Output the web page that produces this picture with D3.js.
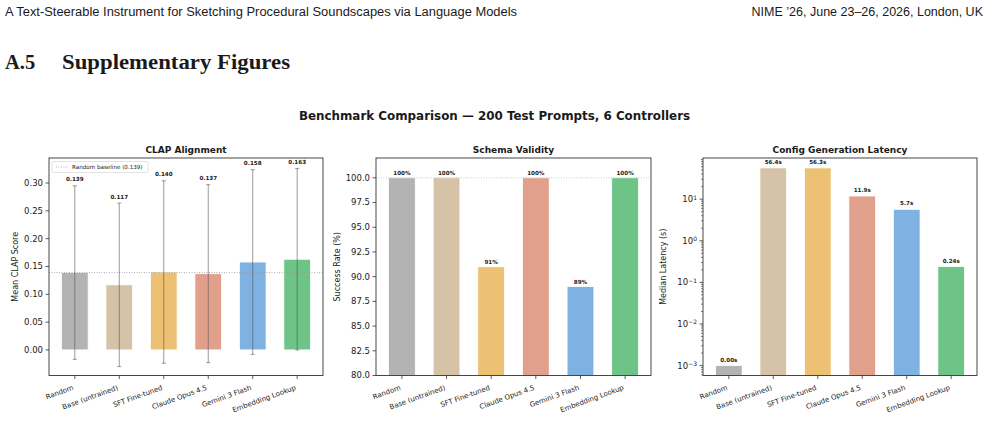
<!DOCTYPE html>
<html>
<head>
<meta charset="utf-8">
<script src="https://cdn.jsdelivr.net/npm/d3@7"></script>
<style>
  body { margin: 0; background: #fff; }
  svg { display: block; }
  text { font-family: "DejaVu Sans", sans-serif; fill: #1a1a1a; }
</style>
</head>
<body>
<svg id="chart" width="988" height="436"></svg>
<script>
// data
const controllers = ["Random", "Base (untrained)", "SFT Fine-tuned", "Claude Opus 4.5", "Gemini 3 Flash", "Embedding Lookup"];
const barColors = ["#b3b3b3", "#d6c2a6", "#ecc173", "#e1a08b", "#7fb1e3", "#6dc486"];

const clapMean = [0.139, 0.117, 0.140, 0.137, 0.158, 0.163];
const clapStd = [0.156, 0.147, 0.164, 0.160, 0.166, 0.163];
const clapBaseline = 0.139;
const clapTicks = [0.00, 0.05, 0.10, 0.15, 0.20, 0.25, 0.30];

const validity = [100, 100, 91, 100, 89, 100];
const validityTicks = [80.0, 82.5, 85.0, 87.5, 90.0, 92.5, 95.0, 97.5, 100.0];

const latency = [0.001, 56.4, 56.3, 11.9, 5.7, 0.24];
const latencyDecades = [-3, -2, -1, 0, 1];

const svg = d3.select("#chart");
svg.append("rect").attr("width", 988).attr("height", 436).attr("fill", "#fff");

// page header
svg.append("text").attr("x", 5).attr("y", 16)
  .style("font-family", "'Liberation Sans Narrow', 'Liberation Sans', sans-serif")
  .style("font-size", "12.5px").attr("textLength", 512).attr("lengthAdjust", "spacingAndGlyphs")
  .text("A Text-Steerable Instrument for Sketching Procedural Soundscapes via Language Models");
svg.append("text").attr("x", 983).attr("y", 16).attr("text-anchor", "end")
  .style("font-family", "'Liberation Sans Narrow', 'Liberation Sans', sans-serif")
  .style("font-size", "12.5px")
  .text("NIME \u201926, June 23\u201326, 2026, London, UK");
const sec = svg.append("text").attr("y", 69)
  .style("font-family", "'Liberation Serif', serif").style("font-weight", "bold").style("font-size", "20.5px");
sec.append("tspan").attr("x", 5).text("A.5");
sec.append("tspan").attr("x", 62).attr("textLength", 228).attr("lengthAdjust", "spacingAndGlyphs").text("Supplementary Figures");

svg.append("text").attr("x", 494.5).attr("y", 119.5).attr("text-anchor", "middle")
  .style("font-weight", "bold").style("font-size", "11.9px")
  .text("Benchmark Comparison \u2014 200 Test Prompts, 6 Controllers");

const axTop = 158, axBottom = 375.5;
const panels = [
  { left: 49, right: 323 },
  { left: 376, right: 651 },
  { left: 703, right: 977 }
];

function frame(p, title, ylabel, ylabelX) {
  const g = svg.append("g");
  p.x = d3.scaleLinear().domain([-0.58, 5.58]).range([p.left, p.right]);
  g.append("text").attr("x", (p.left + p.right) / 2).attr("y", 153)
    .attr("text-anchor", "middle").style("font-weight", "bold").style("font-size", "9px").text(title);
  g.append("text").attr("transform", `translate(${ylabelX},${(axTop + axBottom) / 2}) rotate(-90)`)
    .attr("text-anchor", "middle").style("font-size", "8px").text(ylabel);
  return g;
}

function xAxis(p, g) {
  const ax = g.append("g");
  controllers.forEach((c, i) => {
    const x = p.x(i);
    ax.append("line").attr("x1", x).attr("x2", x).attr("y1", axBottom).attr("y2", axBottom + 3.5)
      .attr("stroke", "#333").attr("stroke-width", 0.8);
    ax.append("text").attr("transform", `translate(${x - 0.8},${axBottom + 14}) rotate(-20)`)
      .attr("text-anchor", "end").style("font-size", "7px").text(c);
  });
}

function yAxis(p, g, y, ticks, fmt) {
  const ax = g.append("g");
  ticks.forEach(t => {
    const yy = y(t);
    ax.append("line").attr("x1", p.left - 3.5).attr("x2", p.left).attr("y1", yy).attr("y2", yy)
      .attr("stroke", "#333").attr("stroke-width", 0.8);
    ax.append("text").attr("x", p.left - 6).attr("y", yy).attr("dy", "0.34em")
      .attr("text-anchor", "end").style("font-size", "8.5px").text(fmt(t));
  });
}

function border(p, g) {
  g.append("rect").attr("x", p.left).attr("y", axTop).attr("width", p.right - p.left).attr("height", axBottom - axTop)
    .attr("fill", "none").attr("stroke", "#333").attr("stroke-width", 0.9);
}

function bars(p, g, y, values, base) {
  g.append("g").selectAll("rect").data(values).join("rect")
    .attr("x", (d, i) => p.x(i - 0.3))
    .attr("width", (d, i) => p.x(i + 0.3) - p.x(i - 0.3))
    .attr("y", d => y(d))
    .attr("height", d => Math.max(0, y(base) - y(d)))
    .attr("fill", (d, i) => barColors[i])
    .attr("stroke", "#fff").attr("stroke-width", 0.8);
}

function valueLabels(p, g, ys, labels) {
  g.append("g").selectAll("text").data(labels).join("text")
    .attr("x", (d, i) => p.x(i)).attr("y", (d, i) => ys[i])
    .attr("text-anchor", "middle").style("font-weight", "bold").style("font-size", "5.6px").text(d => d);
}

// ---- Panel 1: CLAP alignment
{
  const p = panels[0];
  const g = frame(p, "CLAP Alignment", "Mean CLAP Score", 18);
  const y = d3.scaleLinear().domain([-0.046, 0.345]).range([axBottom, axTop]);
  bars(p, g, y, clapMean, 0);
  g.append("line").attr("x1", p.left).attr("x2", p.right).attr("y1", y(clapBaseline)).attr("y2", y(clapBaseline))
    .attr("stroke", "#999").attr("stroke-width", 0.8).attr("stroke-dasharray", "1,1.5");
  const eb = g.append("g").attr("stroke", "#555").attr("stroke-opacity", 0.75).attr("stroke-width", 0.8);
  clapMean.forEach((m, i) => {
    const x = p.x(i), s = clapStd[i];
    eb.append("line").attr("x1", x).attr("x2", x).attr("y1", y(m - s)).attr("y2", y(m + s));
    [m - s, m + s].forEach(v => eb.append("line").attr("x1", x - 2).attr("x2", x + 2).attr("y1", y(v)).attr("y2", y(v)));
  });
  valueLabels(p, g, clapMean.map((m, i) => y(m + clapStd[i]) - 4.5), clapMean.map(d => d3.format(".3f")(d)));
  yAxis(p, g, y, clapTicks, d3.format(".2f"));
  xAxis(p, g);
  // legend
  const lg = g.append("g");
  lg.append("rect").attr("x", p.left + 3).attr("y", 161.5).attr("width", 96).attr("height", 11).attr("rx", 1.5)
    .attr("fill", "#fff").attr("fill-opacity", 0.85).attr("stroke", "#d0d0d0").attr("stroke-width", 0.6);
  lg.append("line").attr("x1", p.left + 7).attr("x2", p.left + 19).attr("y1", 167).attr("y2", 167)
    .attr("stroke", "#999").attr("stroke-width", 0.8).attr("stroke-dasharray", "1,1.5");
  lg.append("text").attr("x", p.left + 23).attr("y", 167).attr("dy", "0.34em")
    .style("font-size", "5.6px").text(`Random baseline (${clapBaseline})`);
  border(p, g);
}

// ---- Panel 2: schema validity
{
  const p = panels[1];
  const g = frame(p, "Schema Validity", "Success Rate (%)", 340);
  const y = d3.scaleLinear().domain([80, 102]).range([axBottom, axTop]);
  bars(p, g, y, validity, 80);
  g.append("line").attr("x1", p.left).attr("x2", p.right).attr("y1", y(100)).attr("y2", y(100))
    .attr("stroke", "#9ed49e").attr("stroke-width", 0.8).attr("stroke-dasharray", "1,1.5");
  valueLabels(p, g, validity.map(v => y(v) - 3), validity.map(v => v + "%"));
  yAxis(p, g, y, validityTicks, d3.format(".1f"));
  xAxis(p, g);
  border(p, g);
}

// ---- Panel 3: latency (log)
{
  const p = panels[2];
  const g = frame(p, "Config Generation Latency", "Median Latency (s)", 666);
  const lo = Math.log10(d3.min(latency)), hi = Math.log10(d3.max(latency));
  const pad = (hi - lo) * 0.05;
  const y = d3.scaleLog().domain([Math.pow(10, lo - pad), Math.pow(10, hi + pad)]).range([axBottom, axTop]);
  bars(p, g, y, latency, y.domain()[0]);
  valueLabels(p, g, latency.map(v => y(v) - 4), latency.map(v => (v < 1 ? v.toFixed(2) : v.toFixed(1)) + "s"));
  // minor ticks
  const minor = g.append("g").attr("stroke", "#333").attr("stroke-width", 0.6);
  d3.range(-4, 3).forEach(k => d3.range(2, 10).forEach(m => {
    const v = m * Math.pow(10, k);
    if (v < y.domain()[0] || v > y.domain()[1]) return;
    minor.append("line").attr("x1", p.left - 2).attr("x2", p.left).attr("y1", y(v)).attr("y2", y(v));
  }));
  const ax = g.append("g");
  latencyDecades.forEach(k => {
    const yy = y(Math.pow(10, k));
    ax.append("line").attr("x1", p.left - 3.5).attr("x2", p.left).attr("y1", yy).attr("y2", yy)
      .attr("stroke", "#333").attr("stroke-width", 0.8);
    const t = ax.append("text").attr("x", p.left - 6).attr("y", yy).attr("dy", "0.34em")
      .attr("text-anchor", "end").style("font-size", "8.5px");
    t.append("tspan").text("10");
    t.append("tspan").attr("dy", "-0.4em").style("font-size", "6px").text(k < 0 ? "\u2212" + (-k) : k);
  });
  xAxis(p, g);
  border(p, g);
}
</script>
</body>
</html>
